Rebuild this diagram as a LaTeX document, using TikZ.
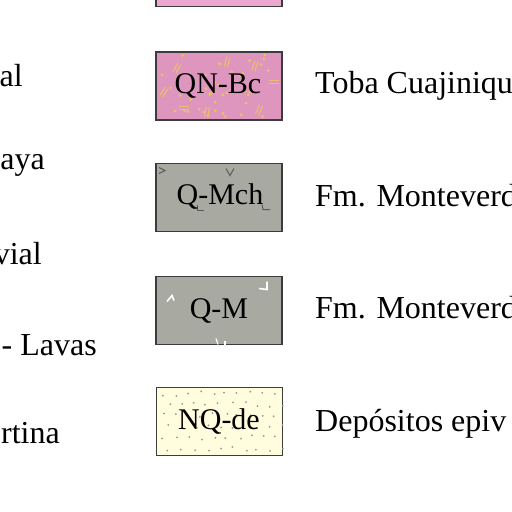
\documentclass[tikz,border=0pt]{standalone}
\usepackage{fontspec}
\setmainfont{Liberation Serif}
\definecolor{pinkA}{RGB}{223,150,190}
\definecolor{pinkTop}{RGB}{236,168,208}
\definecolor{dotY}{RGB}{234,190,110}
\definecolor{grayG}{RGB}{168,170,162}
\definecolor{markD}{RGB}{90,90,90}
\definecolor{yelL}{RGB}{255,253,222}
\definecolor{dotG}{RGB}{150,150,150}
\definecolor{edgeC}{RGB}{60,60,60}
\begin{document}
\begin{tikzpicture}[x=1pt,y=-1pt,
  unitbox/.style={draw=edgeC, line width=1.3pt, minimum width=126pt, minimum height=68pt, inner sep=0pt},
  boxlbl/.style={inner sep=0pt, font=\fontsize{30}{34}\selectfont},
  sidetxt/.style={inner sep=0pt, font=\fontsize{32}{38}\selectfont},
  dmark/.style={markD, line width=1pt},
  wmark/.style={white, line width=1.6pt}]
\useasboundingbox (0,0) rectangle (512,512);
\clip (0,0) rectangle (512,512);
% top partial box
\node[unitbox, fill=pinkTop, anchor=south] (top) at (219,7) {};
% QN-Bc
\pgfmathsetseed{7}
\node[unitbox, fill=pinkA] (qnbc) at (219,86) {};
\begin{scope}[shift={(qnbc.center)}]
  \clip (-62,-33) rectangle (62,33);
  \foreach \i in {1,...,40}{
    \pgfmathsetmacro\dx{rand*60}\pgfmathsetmacro\dy{rand*31}
    \fill[dotY] (\dx,\dy) circle (1.6pt);}
  \foreach \px/\py/\a in {-42/-18/60, 36/-20/70, 55/-4/0, -12/26/80, 40/24/65, -55/6/55, 8/-24/75, -35/22/0}{
    \begin{scope}[shift={(\px,\py)}, rotate=\a]
      \draw[dotY, line width=1.1pt] (-5,-1.6) -- (5,-1.6) (-5,1.6) -- (5,1.6);
    \end{scope}}
\end{scope}
\node[boxlbl] (qnbcl) at (218,86) {QN-Bc};
\node[sidetxt, anchor=base west] (t1) at (315,93) {Toba Cuajiniqu};
% Q-Mch
\node[unitbox, fill=grayG] (qmch) at (219,197.5) {};
\begin{scope}[shift={(qmch.center)}]
  \draw[dmark] (-60,-30) -- (-54,-27) -- (-60,-24);
  \draw[dmark] (7,-29) -- (11,-22) -- (15,-29);
  \draw[dmark] (-22,7) -- (-22,13) -- (-15,13);
  \draw[dmark] (43,7) -- (44,12) -- (51,12);
\end{scope}
\node[boxlbl] (qmchl) at (220,197) {Q-Mch};
\node[sidetxt, anchor=base west] (t2) at (315,206) {Fm. Monteverd};
% Q-M
\node[unitbox, fill=grayG] (qm) at (219,310.5) {};
\begin{scope}[shift={(qm.center)}]
  \draw[wmark] (-52,-9) -- (-47,-15) -- (-45,-10);
  \draw[wmark] (40,-22) -- (48,-21) -- (48,-29);
  \draw[white, line width=1.2pt] (-3,28) -- (-1,34);
  \draw[white, line width=1.2pt] (6,30) -- (6,34);
\end{scope}
\node[boxlbl] (qml) at (219,311) {Q-M};
\node[sidetxt, anchor=base west] (t3) at (315,318) {Fm. Monteverd};
% NQ-de
\node[unitbox, fill=yelL] (nqde) at (219.5,421.5) {};
\begin{scope}[shift={(nqde.center)}]
  \foreach \r in {0,...,5}{
    \foreach \c in {0,...,9}{
      \pgfmathsetmacro\dx{-56+\c*12.5+mod(\r,2)*6+rand*2.5}
      \pgfmathsetmacro\dy{-28+\r*11+rand*2.5}
      \fill[dotG] (\dx,\dy) circle (1pt);}}
\end{scope}
\node[boxlbl] (nqdel) at (219,422) {NQ-de};
\node[sidetxt, anchor=base west] (t4) at (315,431) {Depósitos epiv};
% left column (cut)
\node[sidetxt, anchor=base east] (l1) at (23,86) {al};
\node[sidetxt, anchor=base east] (l2) at (45,169) {aya};
\node[sidetxt, anchor=base east] (l3) at (42,264) {vial};
\node[sidetxt, anchor=base east] (l4) at (97,355) {- Lavas};
\node[sidetxt, anchor=base east] (l5) at (60,443) {rtina};
\end{tikzpicture}
\end{document}
